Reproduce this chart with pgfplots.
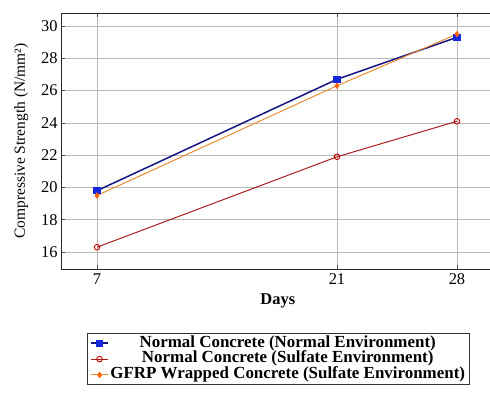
\documentclass[border=0pt]{standalone}
\usepackage{fontspec}
\setmainfont{Liberation Serif}
\usepackage{pgfplots}
\pgfplotsset{compat=1.18}
\definecolor{navyline}{RGB}{20,20,130}
\definecolor{bluemark}{RGB}{20,40,220}
\definecolor{redline}{RGB}{170,30,30}
\definecolor{orangeline}{RGB}{235,140,50}
\begin{document}
\begin{tikzpicture}
\begin{axis}[
  at={(0,0)}, anchor=south west,
  scale only axis,
  width=433.7bp, height=255.9bp,
  xmin=4.9, xmax=30.2, ymin=14.95, ymax=30.8,
  xtick={7,21,28}, ytick={16,18,...,30},
  grid=major, major grid style={gray!55, line width=0.7pt},
  axis line style={black!85, line width=0.9pt},
  tick style={black!70, line width=0.6pt}, major tick length=4pt,
  tick align=inside,
  /pgf/number format/assume math mode=true,
  ticklabel style={font=\fontsize{16.5}{18}\selectfont},
  xticklabel style={yshift=-1pt},
  xlabel={\textbf{Days}},
  ylabel={Compressive Strength (N/mm²)},
  xlabel style={font=\fontsize{16.5}{18}\selectfont, yshift=-2pt},
  ylabel style={font=\fontsize{15.5}{18}\selectfont, yshift=6pt},
  legend style={at={(0.06,-0.25)}, anchor=north west, draw=black!80, line width=0.7pt,
    font=\fontsize{17}{17}\selectfont\bfseries, row sep=0pt, inner ysep=2pt,
    nodes={inner xsep=1.5pt, inner ysep=0.3pt, text height=11.5pt, text depth=3.8pt}},
  legend cell align=center,
]
\addplot[navyline, line width=1.5pt, mark=square*, mark size=3pt, mark options={fill=bluemark, draw=bluemark, solid}]
  coordinates {(7,19.8) (21,26.7) (28,29.3)};
\addlegendentry{Normal Concrete (Normal Environment)}
\addplot[redline, line width=1pt, mark=o, mark size=2.8pt, mark options={draw=red!80!black, line width=0.9pt}]
  coordinates {(7,16.3) (21,21.9) (28,24.1)};
\addlegendentry{Normal Concrete (Sulfate Environment)}
\addplot[orangeline, line width=1pt, mark=diamond*, mark size=2.5pt, mark options={fill=orange!80!red, draw=orange!80!red}]
  coordinates {(7,19.5) (21,26.3) (28,29.5)};
\addlegendentry{GFRP Wrapped Concrete (Sulfate Environment)}
\end{axis}
\pgfresetboundingbox
\path[use as bounding box] (-61bp,-127bp) rectangle (429bp,269bp);
\end{tikzpicture}
\end{document}
